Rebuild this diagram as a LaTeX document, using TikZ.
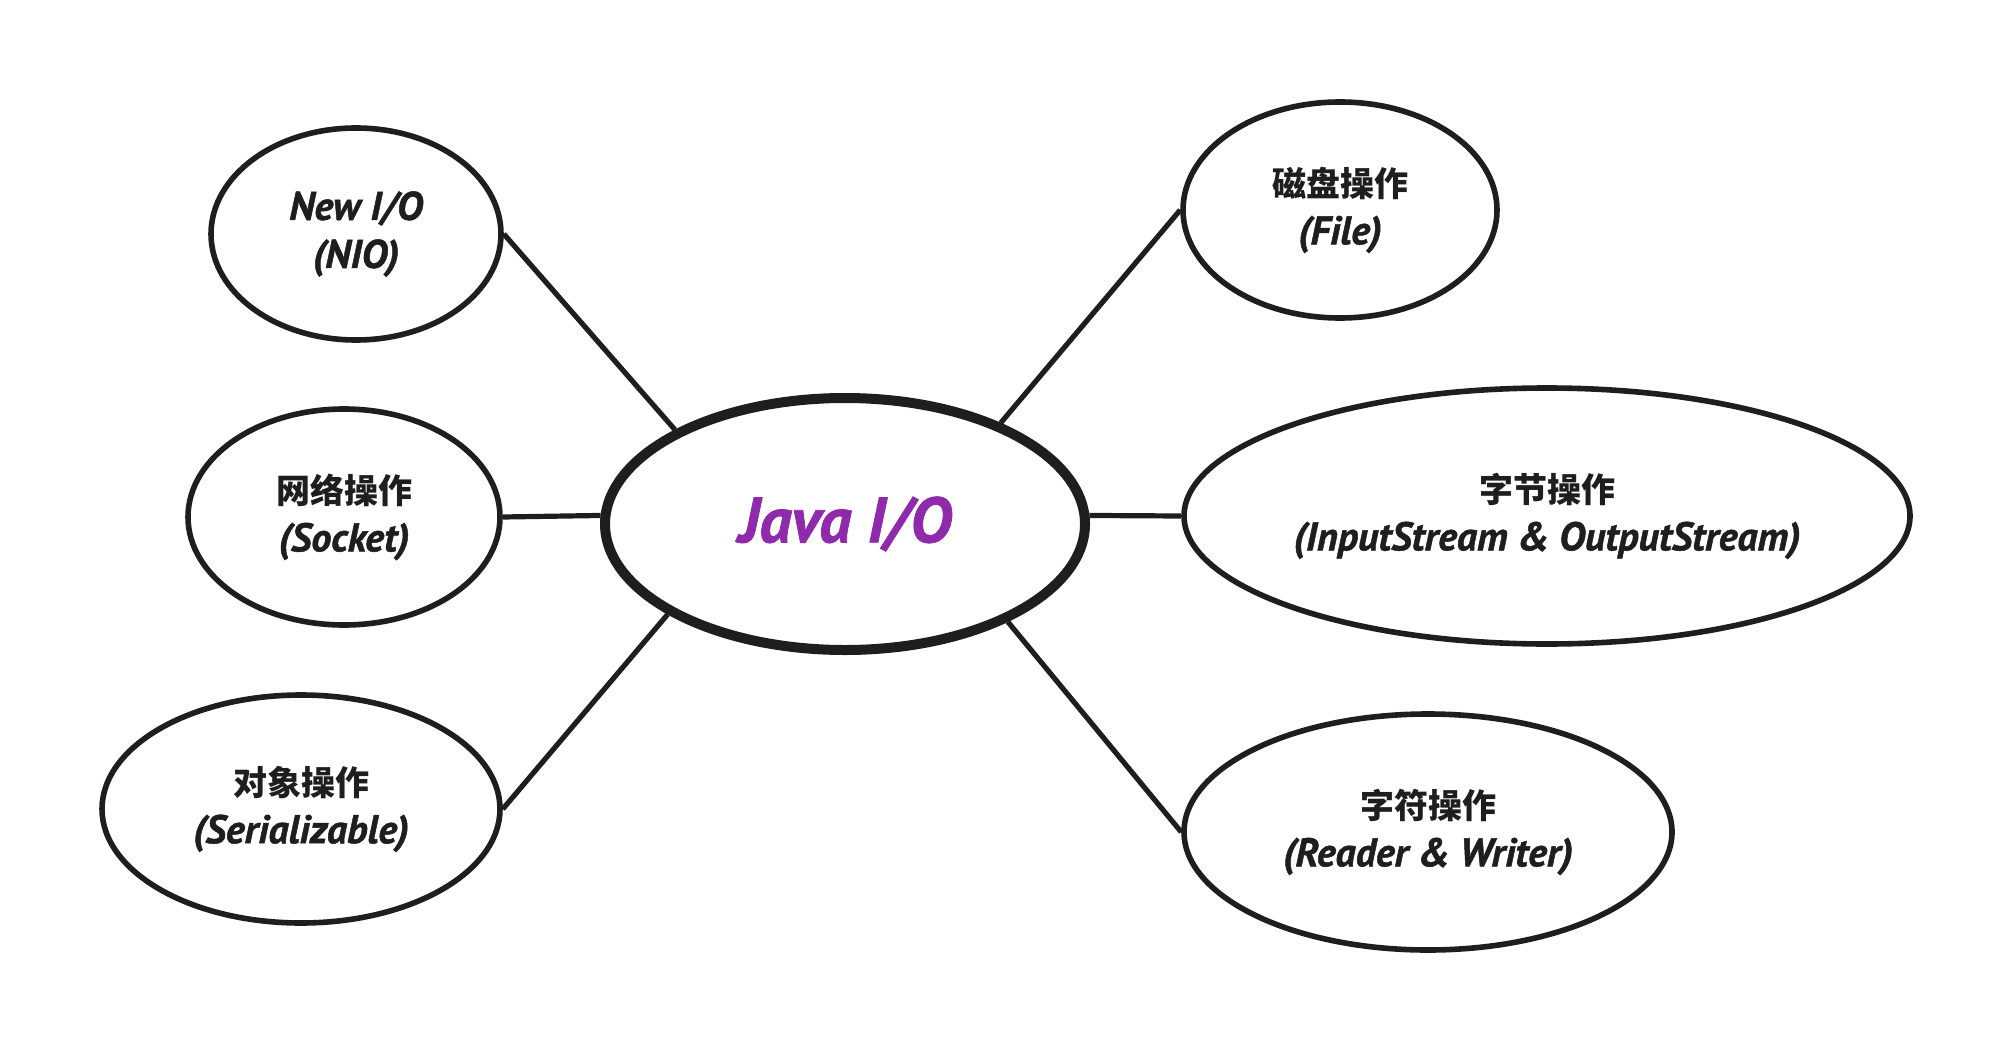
\documentclass[tikz,border=0pt]{standalone}
\usepackage{fontspec}
\setmainfont{PT Sans}[BoldItalicFeatures={FakeBold=1.2}]
\newfontfamily\cjk{Noto Sans CJK SC}
\usetikzlibrary{shapes.geometric}
\definecolor{ink}{HTML}{1E1E1E}
\definecolor{grape}{HTML}{8E2AAB}
\newcommand{\zh}[1]{{\fontsize{17pt}{24pt}\selectfont\cjk\bfseries #1}}
\begin{document}
\begin{tikzpicture}[x=0.5pt,y=-0.5pt,
  leaf/.style={ellipse,draw=ink,line width=2.8pt,fill=white,inner sep=0pt,align=center,
    font=\fontsize{20pt}{24pt}\selectfont\bfseries\itshape,text=ink},
  hub/.style={ellipse,draw=ink,line width=5pt,fill=white,inner sep=0pt,
    font=\fontsize{32pt}{34pt}\selectfont\bfseries\itshape,text=grape},
  link/.style={draw=ink,line width=2.6pt}]
\useasboundingbox (0,0) rectangle (2006,1048);
\node[hub,minimum width=240pt,minimum height=126pt] (java) at (845,524) {Java I/O};
\node[leaf,minimum width=145pt,minimum height=106pt] (nio) at (356,234) {New I/O\\(NIO)};
\node[leaf,minimum width=156pt,minimum height=108pt] (sock) at (344,517) {\zh{网络操作}\\(Socket)};
\node[leaf,minimum width=199pt,minimum height=114pt] (ser) at (301,809) {\zh{对象操作}\\(Serializable)};
\node[leaf,minimum width=157pt,minimum height=108pt] (file) at (1340,210) {\zh{磁盘操作}\\(File)};
\node[leaf,minimum width=363pt,minimum height=128pt] (inp) at (1547,516) {\zh{字节操作}\\(InputStream \& OutputStream)};
\node[leaf,minimum width=244pt,minimum height=118pt] (rdr) at (1428,832) {\zh{字符操作}\\(Reader \& Writer)};
\draw[link] (nio.east) -- (java.151);
\draw[link] (sock.east) -- (java.178);
\draw[link] (ser.east) -- (java.207);
\draw[link] (file.west) -- (java.33);
\draw[link] (inp.west) -- (java.2);
\draw[link] (rdr.west) -- (java.329);
\end{tikzpicture}
\end{document}
